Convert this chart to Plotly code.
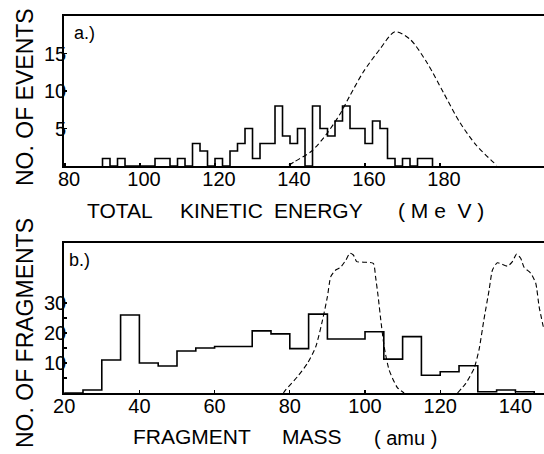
import plotly.graph_objects as go

# ---------------- data ----------------
# Panel a: total kinetic energy histogram, 2 MeV bins starting at 90 MeV
tke_bin_start = 90.0
tke_bin_width = 2.0
tke_counts = [1, 0, 1, 0, 0, 0, 0, 1, 1, 0,
              1, 0, 3, 2, 0, 1, 0, 2, 3, 5,
              1, 3, 3, 8, 4, 3, 5, 0, 8, 5,
              4, 6, 8, 5, 5, 3, 6, 5, 1, 0,
              1, 0, 1, 1]
# dashed curve of panel a
tke_curve_x = [139.7, 141.3, 145.8, 149.8, 153.3, 156.0, 159.5, 164.0, 168.0,
               172.0, 176.5, 180.9, 185.3, 189.8, 195.1]
tke_curve_y = [0.1, 0.6, 2.0, 4.3, 6.9, 9.4, 12.5, 15.6, 17.9,
               16.9, 13.8, 9.8, 5.8, 2.7, 0.1]
tke_ticks = [80, 100, 120, 140, 160, 180]
events_ticks = [5, 10, 15]

# Panel b: fragment mass histogram, 5 amu bins starting at 20 amu
mass_bin_start = 20.0
mass_bin_width = 5.0
mass_counts = [0, 1, 11, 26, 10, 9, 14, 15, 15.5, 15.5,
               20.7, 19.7, 14.8, 26.3, 18, 18, 20.4, 11.3, 18.8, 5.9,
               7.1, 9.1, 0.4, 1.0, 0.4]
# dashed curves of panel b
light_curve_x = [78.3, 79.0, 82.0, 84.7, 86.9, 88.7, 90.0, 90.9, 92.2, 93.5,
                 94.9, 96.0, 96.9, 97.8, 99.7, 102.2, 102.8, 103.5, 104.2,
                 105.1, 106.4, 108.6, 110.4]
light_curve_y = [0, 1.2, 5.4, 9.9, 15.4, 24.3, 32.1, 38.8, 41.0, 41.9,
                 44.3, 46.6, 46.0, 43.8, 43.6, 43.2, 38.8, 32.1, 24.3,
                 15.4, 7.7, 1.8, 0]
heavy_curve_x = [124.6, 126.8, 129.0, 130.3, 131.6, 133.0, 133.9, 135.2, 137.9,
                 139.2, 140.3, 141.4, 142.3, 144.1, 145.4, 146.3, 147.6]
heavy_curve_y = [0, 3.2, 8.2, 14.3, 24.3, 34.3, 41.0, 43.4, 42.3,
                 43.8, 46.3, 44.9, 41.9, 39.9, 36.6, 28.8, 21.0]
mass_ticks = [20, 40, 60, 80, 100, 120, 140]
frag_ticks = [5, 10, 15, 20, 25, 30]
frag_ticktext = ["", "10", "", "20", "", "30"]

# ---------------- helpers ----------------
def step_outline(start, width, counts):
    xs = [start]
    ys = [0]
    for i, c in enumerate(counts):
        xs.append(start + i * width)
        ys.append(c)
    xs.append(start + len(counts) * width)
    ys.append(0)
    return xs, ys

W, H = 544, 454
ML, MR, MT, MB = 64, 0, 16, 61
PW, PH = W - ML - MR, H - MT - MB

def px(xp):
    return (xp - ML) / PW

def py(yp):
    return (H - MB - yp) / PH

FONT = "Liberation Sans, Arial, sans-serif"
INK = "black"

fig = go.Figure()

hx, hy = step_outline(tke_bin_start, tke_bin_width, tke_counts)
fig.add_trace(go.Scatter(x=hx, y=hy, mode="lines", line_shape="hv",
                         line=dict(color=INK, width=1.6),
                         xaxis="x", yaxis="y", showlegend=False))
fig.add_trace(go.Scatter(x=tke_curve_x, y=tke_curve_y, mode="lines",
                         line=dict(color=INK, width=1.1, dash="5px,3px",
                                   shape="spline", smoothing=0.8),
                         xaxis="x", yaxis="y", showlegend=False))

mx, my = step_outline(mass_bin_start, mass_bin_width, mass_counts)
fig.add_trace(go.Scatter(x=mx, y=my, mode="lines", line_shape="hv",
                         line=dict(color=INK, width=1.6),
                         xaxis="x2", yaxis="y2", showlegend=False))
for cx, cy in ((light_curve_x, light_curve_y), (heavy_curve_x, heavy_curve_y)):
    fig.add_trace(go.Scatter(x=cx, y=cy, mode="lines",
                             line=dict(color=INK, width=1.1, dash="5px,3px",
                                       shape="spline", smoothing=0.6),
                             xaxis="x2", yaxis="y2", showlegend=False))

top_a, bot_a = 16, 166
top_b, bot_b = 243, 393

axis_common = dict(showline=True, linecolor=INK, linewidth=1.8,
                   showgrid=False, zeroline=False, ticks="inside", ticklen=3,
                   tickcolor=INK, tickwidth=1.2, automargin=False,
                   tickfont=dict(family=FONT, size=20, color=INK))
xcommon = dict(mirror=True, ticklabelstandoff=-6, **axis_common)
ycommon = dict(ticklabelstandoff=-8, **axis_common)

fig.update_layout(
    template="none",
    width=W, height=H,
    margin=dict(l=ML, r=MR, t=MT, b=MB, pad=0, autoexpand=False),
    paper_bgcolor="white", plot_bgcolor="white",
    font=dict(family=FONT, color=INK),
    hovermode=False,
    xaxis=dict(domain=[0, 1], anchor="y", range=[79.73, 207.73],
               tickvals=tke_ticks, ticklabelshift=4, **xcommon),
    yaxis=dict(domain=[py(bot_a), py(top_a)], anchor="x", range=[0, 20],
               tickvals=events_ticks, **ycommon),
    xaxis2=dict(domain=[0, 1], anchor="y2", range=[19.95, 147.6],
                tickvals=mass_ticks, **xcommon),
    yaxis2=dict(domain=[py(bot_b), py(top_b)], anchor="x2", range=[0, 50],
                tickvals=frag_ticks, ticktext=frag_ticktext, **ycommon),
)

def label(text, xc, yc, size, angle=0):
    fig.add_annotation(text=text, xref="paper", yref="paper",
                       x=px(xc), y=py(yc), xanchor="center", yanchor="middle",
                       showarrow=False, textangle=angle,
                       font=dict(family=FONT, size=size, color=INK))

NB = "\u00a0"
label("a.)", 84, 33, 18)
label("b.)", 79, 260, 18)
label("NO." + NB + "OF" + NB + "EVENTS", 25, 97, 23, -90)
label("NO." + NB + "OF" + NB + "FRAGMENTS", 25, 333, 23, -90)
label("TOTAL", 119.5, 210, 21)
label("KINETIC", 221, 210, 21)
label("ENERGY", 318, 210, 21)
label("(" + NB + "M" + NB + "e" + NB + NB + "V" + NB + ")", 441, 210, 21)
label("FRAGMENT", 191.5, 437, 21)
label("MASS", 312, 436, 21)
label("(" + NB + "amu" + NB + ")", 405.5, 438, 20)

fig.write_html(
    "out.html",
    config={"displayModeBar": False, "staticPlot": True},
    post_script=("document.body.style.margin='0';"
                 "document.body.style.padding='0';"
                 "document.documentElement.style.overflow='hidden';"),
)
